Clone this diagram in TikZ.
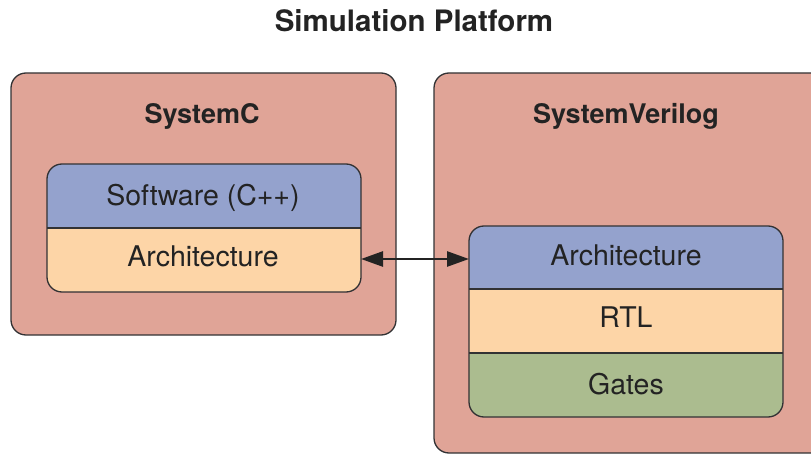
\documentclass[tikz,border=0pt]{standalone}
\usepackage{fontspec}
\setmainfont{TeX Gyre Heros}
\usetikzlibrary{arrows.meta}

\definecolor{platform}{RGB}{224,164,151}
\definecolor{layerblue}{RGB}{148,162,205}
\definecolor{layerpeach}{RGB}{253,213,167}
\definecolor{layergreen}{RGB}{171,188,143}
\definecolor{edge}{RGB}{50,50,52}
\definecolor{ink}{RGB}{35,35,35}

\begin{document}
\begin{tikzpicture}[x=1pt,y=-1pt,
  bigbox/.style={draw=edge, line width=1.3pt, fill=platform, rounded corners=15pt,
                 anchor=north west, inner sep=0pt, outer sep=0pt},
  layer/.style={anchor=north west, inner sep=0pt, outer sep=0pt, minimum width=314pt},
  layertext/.style={anchor=base, inner sep=0pt, text=ink, font=\fontsize{28.5}{33}\selectfont},
  stackedge/.style={draw=edge, line width=1.3pt},
  heading/.style={anchor=base, inner sep=0pt, text=ink, font=\fontsize{27}{32}\selectfont\bfseries},
  link/.style={draw=ink, line width=2.6pt, {Triangle[length=22pt,width=15pt]}-{Triangle[length=22pt,width=15pt]}}
]
\useasboundingbox (0,0) rectangle (811,454);
\clip (0,0) rectangle (811,454);

% title
\node[anchor=base, inner sep=0pt, text=ink, font=\fontsize{29.5}{34}\selectfont\bfseries] (title) at (414,32) {Simulation Platform};

% platform boxes
\node[bigbox, minimum width=385pt, minimum height=262pt] (sysc) at (11,73) {};
\node[bigbox, minimum width=400pt, minimum height=380pt] (sysv) at (434,73) {};
\node[heading] (syscname) at (202,124) {SystemC};
\node[heading] (sysvname) at (626,124) {SystemVerilog};

% SystemC stack
\begin{scope}
  \clip[rounded corners=15pt] (47,164) rectangle (361,292);
  \node[layer, fill=layerblue, minimum height=64pt] (sw) at (47,164) {};
  \node[layer, fill=layerpeach, minimum height=64pt] (archl) at (47,228) {};
\end{scope}
\draw[stackedge] (sw.south west) -- (sw.south east);
\draw[stackedge, rounded corners=15pt] (47,164) rectangle (361,292);
\node[layertext] (swtext) at (203,206) {Software (C++)};
\node[layertext] (archltext) at (203,267) {Architecture};

% SystemVerilog stack
\begin{scope}
  \clip[rounded corners=15pt] (469,226) rectangle (783,417);
  \node[layer, fill=layerblue, minimum height=63pt] (archr) at (469,226) {};
  \node[layer, fill=layerpeach, minimum height=64pt] (rtl) at (469,289) {};
  \node[layer, fill=layergreen, minimum height=64pt] (gates) at (469,353) {};
\end{scope}
\draw[stackedge] (archr.south west) -- (archr.south east);
\draw[stackedge] (rtl.south west) -- (rtl.south east);
\draw[stackedge, rounded corners=15pt] (469,226) rectangle (783,417);
\node[layertext] (archrtext) at (626,266) {Architecture};
\node[layertext] (rtltext) at (626,327) {RTL};
\node[layertext] (gatestext) at (626,394) {Gates};

% co-simulation link
\draw[link] ([yshift=1pt]archl.east) -- ([yshift=1pt]archl.east -| archr.west);
\end{tikzpicture}
\end{document}
